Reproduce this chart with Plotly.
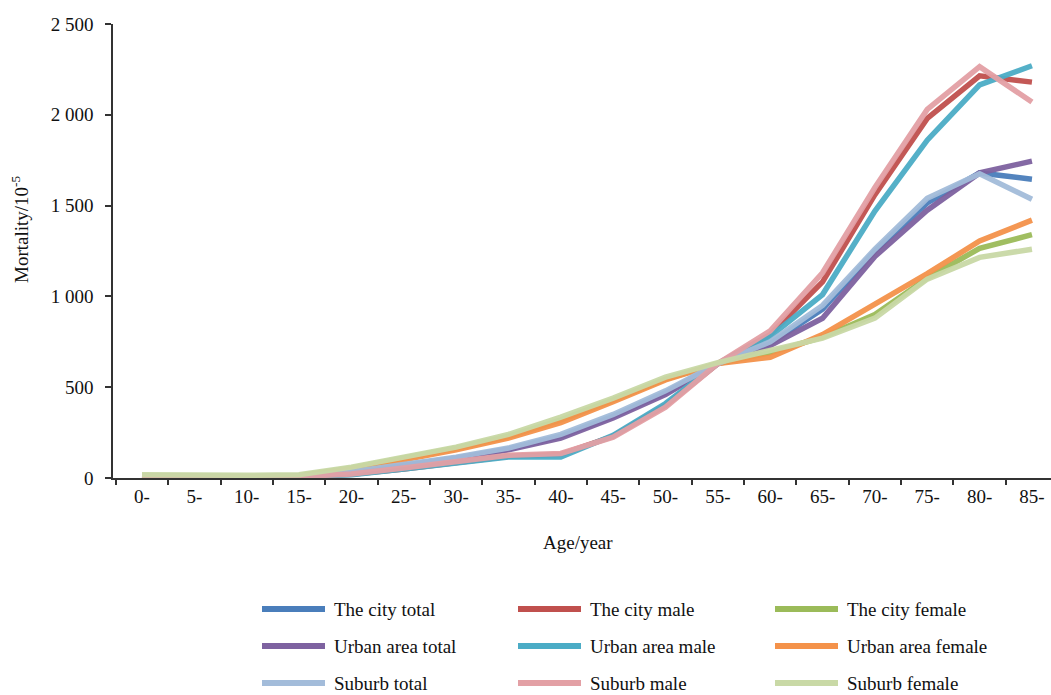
import plotly.graph_objects as go

# Age groups (years)
age_groups = ["0-", "5-", "10-", "15-", "20-", "25-", "30-", "35-", "40-",
              "45-", "50-", "55-", "60-", "65-", "70-", "75-", "80-", "85-"]

# Mortality per 100 000 by age group
city_total = [8, 5, 5, 8, 30, 70, 110, 160, 230, 340, 470, 630, 740, 930, 1250, 1515, 1680, 1645]
city_male = [8, 5, 5, 8, 20, 50, 85, 120, 130, 230, 400, 630, 790, 1080, 1560, 1980, 2215, 2180]
city_female = [12, 8, 8, 12, 55, 110, 165, 230, 320, 430, 545, 630, 690, 775, 900, 1100, 1265, 1340]
urban_total = [8, 5, 5, 8, 28, 65, 105, 155, 220, 330, 460, 630, 730, 880, 1220, 1475, 1680, 1745]
urban_male = [8, 5, 5, 8, 18, 50, 80, 115, 115, 235, 410, 630, 780, 1010, 1470, 1860, 2165, 2270]
urban_female = [10, 7, 7, 10, 50, 100, 155, 220, 305, 420, 540, 630, 665, 790, 960, 1125, 1305, 1420]
suburb_total = [10, 6, 6, 9, 35, 75, 115, 165, 240, 350, 480, 630, 750, 950, 1260, 1540, 1675, 1535]
suburb_male = [8, 5, 5, 8, 22, 55, 90, 125, 135, 225, 390, 630, 810, 1130, 1600, 2030, 2265, 2070]
suburb_female = [18, 15, 15, 18, 60, 115, 170, 240, 335, 440, 555, 635, 700, 770, 880, 1095, 1215, 1260]

series_names = ["The city total", "The city male", "The city female",
                "Urban area total", "Urban area male", "Urban area female",
                "Suburb total", "Suburb male", "Suburb female"]
series_values = [city_total, city_male, city_female,
                 urban_total, urban_male, urban_female,
                 suburb_total, suburb_male, suburb_female]
series_colors = ["#4a7ebb", "#c0504d", "#9bbb59",
                 "#7e62a0", "#4bacc6", "#f4924a",
                 "#a3bcda", "#e3a0a5", "#c9d9a6"]

y_tick_vals = [0, 500, 1000, 1500, 2000, 2500]
y_tick_text = ["0", "500", "1 000", "1 500", "2 000", "2 500"]

FONT = "Liberation Serif, Times New Roman, serif"
W, H = 1051, 695
L, T, B = 113, 24, 217          # plot area margins (px)
PW, PH = W - L, H - T - B       # plot area size (px)


def px_to_paper(px, py):
    return (px - L) / PW, (H - B - py) / PH


fig = go.Figure()
for name, vals, col in zip(series_names, series_values, series_colors):
    fig.add_trace(go.Scatter(
        x=age_groups, y=vals, name=name, mode="lines",
        line=dict(color=col, width=5.5), opacity=0.95, showlegend=False,
    ))

# Three-column key below the chart
col_x = [262, 518, 775]
row_y = [609, 646, 683]
shapes = []
annotations = []
for i, (name, col) in enumerate(zip(series_names, series_colors)):
    cx = col_x[i % 3]
    ry = row_y[i // 3]
    x0, y0 = px_to_paper(cx, ry)
    x1, _ = px_to_paper(cx + 63, ry)
    shapes.append(dict(type="line", xref="paper", yref="paper",
                       x0=x0, x1=x1, y0=y0, y1=y0,
                       line=dict(color=col, width=6)))
    tx, _ = px_to_paper(cx + 70, ry)
    annotations.append(dict(text=name, xref="paper", yref="paper",
                            x=tx, y=y0, xanchor="left", yanchor="middle",
                            showarrow=False, font=dict(size=19, family=FONT, color="#111")))

# Axis titles
ax, ay = px_to_paper(578, 542)
annotations.append(dict(text="Age/year", xref="paper", yref="paper", x=ax, y=ay,
                        xanchor="center", yanchor="middle", showarrow=False,
                        font=dict(size=19, family=FONT, color="#111")))
tx, ty = px_to_paper(20, 230)
annotations.append(dict(text="Mortality/10<sup>-5</sup>", xref="paper", yref="paper",
                        x=tx, y=ty, xanchor="center", yanchor="middle", textangle=-90,
                        showarrow=False, font=dict(size=19, family=FONT, color="#111")))

# category 0 sits 29 px right of the y axis, 52.35 px per category
step = 52.35
x_lo = -(142 - L) / step
x_hi = (W - 142) / step

fig.update_layout(
    width=W, height=H,
    margin=dict(l=L, r=0, t=T, b=B),
    paper_bgcolor="white", plot_bgcolor="white",
    font=dict(family=FONT, size=19, color="#111"),
    shapes=shapes, annotations=annotations,
    xaxis=dict(
        type="category", range=[x_lo, x_hi], tickson="boundaries",
        showline=True, linecolor="#333", linewidth=1.5,
        ticks="outside", ticklen=5, tickcolor="#333", tickwidth=1.5,
        showgrid=False, zeroline=False,
        tickfont=dict(size=19, family=FONT, color="#111"),
    ),
    yaxis=dict(
        range=[0, 2500], tickvals=y_tick_vals, ticktext=y_tick_text,
        showline=True, linecolor="#333", linewidth=1.5,
        ticks="outside", ticklen=6, tickcolor="#333", tickwidth=1.5,
        ticklabelstandoff=8,
        showgrid=False, zeroline=False,
        tickfont=dict(size=19, family=FONT, color="#111"),
    ),
)

fig.write_html("out.html")
